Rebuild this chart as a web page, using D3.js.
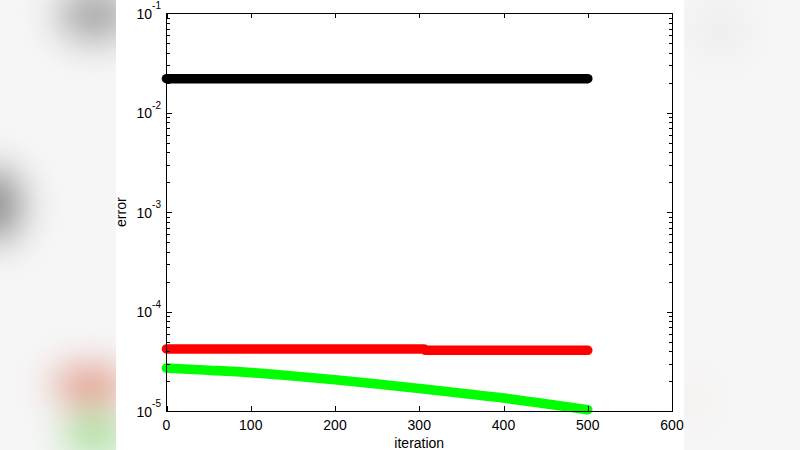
<!DOCTYPE html>
<html>
<head>
<meta charset="utf-8">
<script src="https://cdn.jsdelivr.net/npm/d3@7"></script>
<style>
  html, body { margin: 0; padding: 0; background: #f4f4f4; }
  svg { display: block; }
  text { font-family: "Liberation Sans", Arial, Helvetica, sans-serif; fill: #000; }
</style>
</head>
<body>
<svg id="chart" width="800" height="450"></svg>
<script>
// ---- data ----
const xTicks = [0, 100, 200, 300, 400, 500, 600];
const yDecades = [-5, -4, -3, -2, -1];
const blackIter = [0, 100, 200, 300, 400, 500];
const blackErr  = [0.0220, 0.0220, 0.0220, 0.0220, 0.0220, 0.0220];
const redIter = [0, 100, 200, 306, 307, 400, 500];
const redErr  = [4.21e-5, 4.21e-5, 4.21e-5, 4.21e-5, 4.08e-5, 4.08e-5, 4.08e-5];
const greenIter = [0, 50, 100, 150, 200, 250, 300, 350, 400, 450, 500];
const greenErr  = [2.70e-5, 2.57e-5, 2.43e-5, 2.25e-5, 2.06e-5, 1.87e-5, 1.68e-5, 1.51e-5, 1.35e-5, 1.18e-5, 1.03e-5];
const xLabel = "iteration";
const yLabel = "error";

const svg = d3.select("#chart");

// ---- blurred video-frame background ----
const defs = svg.append("defs");
defs.append("filter").attr("id", "blur").attr("x", "-50%").attr("y", "-50%")
  .attr("width", "200%").attr("height", "200%")
  .append("feGaussianBlur").attr("stdDeviation", 18);
const bg = svg.append("g").attr("filter", "url(#blur)");
bg.append("rect").attr("x", -40).attr("y", -40).attr("width", 880).attr("height", 530).attr("fill", "#f6f6f6");
bg.append("ellipse").attr("cx", 95).attr("cy", 15).attr("rx", 40).attr("ry", 30).attr("fill", "#a9a9a9");
bg.append("ellipse").attr("cx", -5).attr("cy", 205).attr("rx", 30).attr("ry", 40).attr("fill", "#8c8c8c");
bg.append("ellipse").attr("cx", 90).attr("cy", 385).attr("rx", 40).attr("ry", 22).attr("fill", "#e39a86");
bg.append("ellipse").attr("cx", 95).attr("cy", 435).attr("rx", 35).attr("ry", 22).attr("fill", "#a6e096");
bg.append("ellipse").attr("cx", 695).attr("cy", 400).attr("rx", 12).attr("ry", 20).attr("fill", "#fbe9e9");
bg.append("ellipse").attr("cx", 720).attr("cy", 30).attr("rx", 30).attr("ry", 30).attr("fill", "#eeeeee");

// white figure panel
svg.append("rect").attr("x", 116).attr("y", 0).attr("width", 568).attr("height", 450).attr("fill", "#fff");

// ---- scales ----
const plot = { left: 166.5, right: 672, top: 13.3, bottom: 411 };
const x = d3.scaleLinear().domain([0, 600]).range([plot.left, plot.right]);
const y = d3.scaleLog().domain([1e-5, 1e-1]).range([plot.bottom, plot.top]);

// ---- series ----
const series = [
  { iter: blackIter, err: blackErr, color: "#000000", curve: d3.curveLinear },
  { iter: redIter, err: redErr, color: "#ff0000", curve: d3.curveLinear },
  { iter: greenIter, err: greenErr, color: "#00ff00", curve: d3.curveMonotoneX }
];
const gSeries = svg.append("g");
series.forEach(s => {
  const pts = s.iter.map((v, i) => [v, s.err[i]]);
  const line = d3.line().x(d => x(d[0])).y(d => y(d[1])).curve(s.curve);
  gSeries.append("path").attr("d", line(pts))
    .attr("fill", "none").attr("stroke", s.color)
    .attr("stroke-width", 9.6).attr("stroke-linecap", "round").attr("stroke-linejoin", "round");
});

// ---- axes box & ticks ----
const ax = svg.append("g").attr("stroke", "#000").attr("stroke-width", 1).attr("shape-rendering", "crispEdges");
ax.append("rect").attr("x", plot.left).attr("y", plot.top)
  .attr("width", plot.right - plot.left).attr("height", plot.bottom - plot.top).attr("fill", "none");

const majLen = 5, minLen = 3;
xTicks.forEach(t => {
  const xp = Math.round(x(t)) + 0.5;
  ax.append("line").attr("x1", xp).attr("x2", xp).attr("y1", plot.bottom).attr("y2", plot.bottom - majLen);
  ax.append("line").attr("x1", xp).attr("x2", xp).attr("y1", plot.top).attr("y2", plot.top + majLen);
});
yDecades.forEach((e, i) => {
  const base = Math.pow(10, e);
  const ms = i < yDecades.length - 1 ? [1,2,3,4,5,6,7,8,9] : [1];
  ms.forEach(m => {
    const yp = Math.round(y(m * base)) + 0.5;
    const len = m === 1 ? majLen : minLen;
    ax.append("line").attr("x1", plot.left).attr("x2", plot.left + len).attr("y1", yp).attr("y2", yp);
    ax.append("line").attr("x1", plot.right).attr("x2", plot.right - len).attr("y1", yp).attr("y2", yp);
  });
});

// ---- tick labels ----
const labels = svg.append("g");
xTicks.forEach(t => {
  labels.append("text").attr("x", x(t)).attr("y", plot.bottom + 18.5)
    .attr("text-anchor", "middle").attr("font-size", 14).text(t);
});
yDecades.forEach(e => {
  const tx = labels.append("text").attr("x", 161).attr("y", y(Math.pow(10, e)) + 5.5)
    .attr("text-anchor", "end").attr("font-size", 14);
  tx.append("tspan").text("10");
  tx.append("tspan").attr("font-size", 10).attr("dy", -9.5).text(String(e));
});

// ---- axis titles ----
labels.append("text").attr("x", (plot.left + plot.right) / 2).attr("y", 448)
  .attr("text-anchor", "middle").attr("font-size", 14).text(xLabel);
labels.append("text").attr("transform", `translate(125.5,${(plot.top + plot.bottom) / 2}) rotate(-90)`)
  .attr("text-anchor", "middle").attr("font-size", 14).text(yLabel);
</script>
</body>
</html>
